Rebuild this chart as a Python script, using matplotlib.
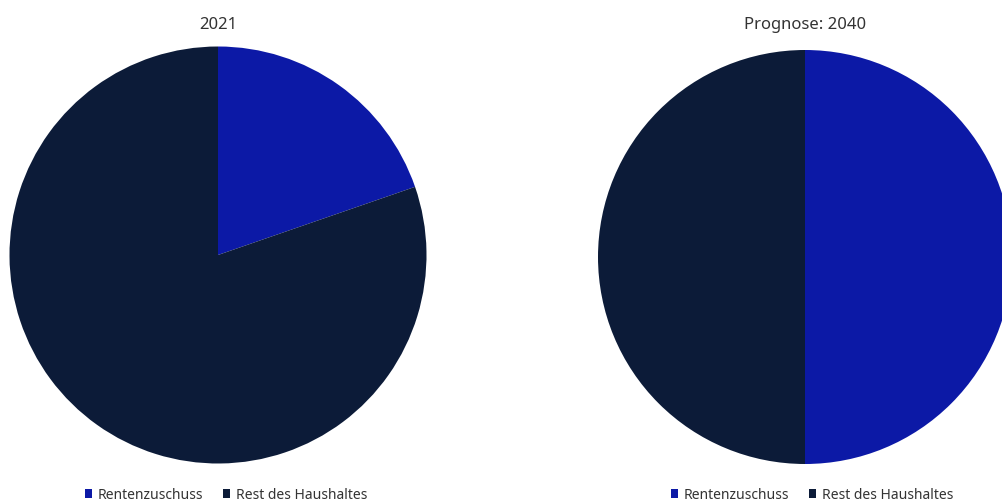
import matplotlib
matplotlib.use("Agg")
import matplotlib.pyplot as plt
from matplotlib.patches import Patch

plt.rcParams['font.family'] = ['Noto Sans', 'DejaVu Sans']

categories = ["Rentenzuschuss", "Rest des Haushaltes"]
values_2021 = [19.7, 80.3]
values_2040 = [50, 50]
titles = ["2021", "Prognose: 2040"]
colors = ["#0c19a6", "#0c1b38"]

W, H = 1002, 502
fig = plt.figure(figsize=(W / 100, H / 100), dpi=100)

def add_pie(cx, cy, r, vals, title, legend_cx):
    ax = fig.add_axes([(cx - r) / W, (H - cy - r) / H, 2 * r / W, 2 * r / H])
    ax.pie(vals, colors=colors, startangle=90, counterclock=False, radius=1,
           wedgeprops=dict(linewidth=0))
    ax.set_xlim(-1, 1)
    ax.set_ylim(-1, 1)
    ax.set_aspect('auto')
    ax.axis('off')
    fig.text(cx / W, 1 - 25 / H, title, ha='center', va='center', fontsize=12, color='#333333')
    handles = [Patch(facecolor=c, edgecolor='none') for c in colors]
    fig.legend(handles, categories, loc='center', bbox_to_anchor=(legend_cx / W, 1 - 496 / H),
               ncol=2, frameon=False, fontsize=10, handlelength=0.55, handleheight=0.55,
               handletextpad=0.4, columnspacing=1.4, labelcolor='#333333')

add_pie(218, 256, 208.5, values_2021, titles[0], 226)
add_pie(805, 258, 207, values_2040, titles[1], 812)

fig.savefig("out.png", dpi=100, facecolor='white')
